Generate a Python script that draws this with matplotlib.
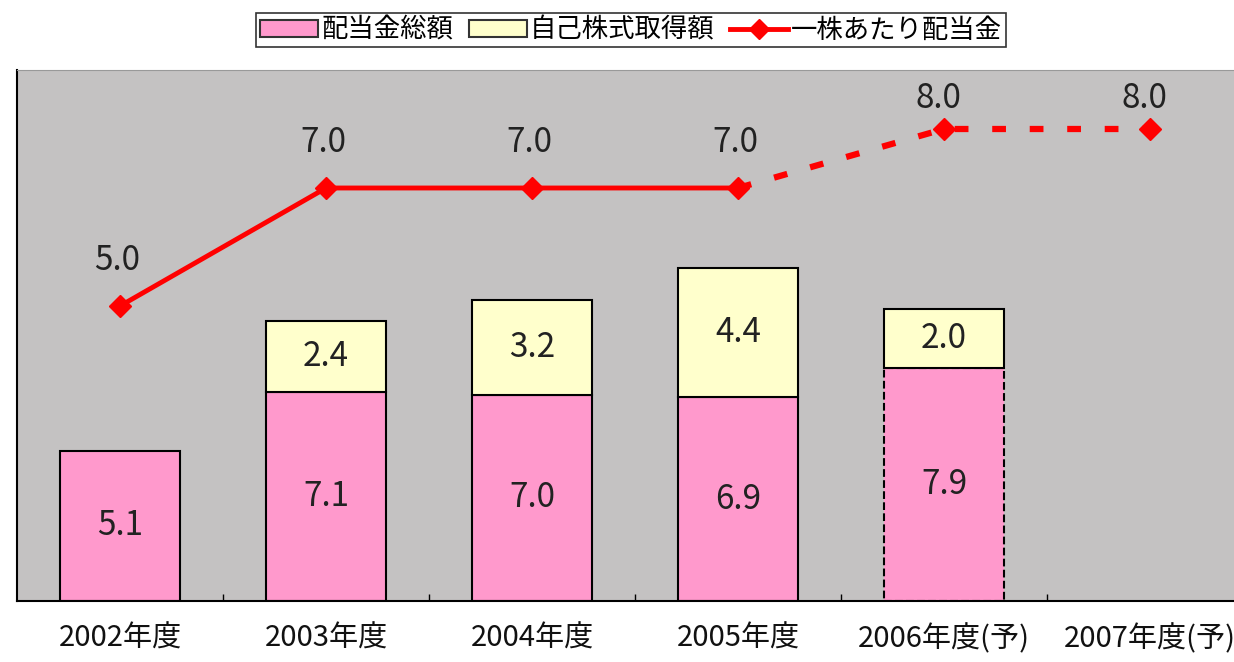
import matplotlib
matplotlib.use("Agg")
import matplotlib.pyplot as plt
from matplotlib.patches import Patch
from matplotlib.lines import Line2D

plt.rcParams['font.family'] = ['Noto Sans CJK JP', 'DejaVu Sans']

categories = ["2002年度", "2003年度", "2004年度", "2005年度", "2006年度(予)", "2007年度(予)"]
dividends = [5.1, 7.1, 7.0, 6.9, 7.9, None]
buybacks = [None, 2.4, 3.2, 4.4, 2.0, None]
per_share = [5.0, 7.0, 7.0, 7.0, 8.0, 8.0]
legend_labels = ["配当金総額", "自己株式取得額", "一株あたり配当金"]

PINK = "#FF99CC"
YELLOW = "#FFFFCC"
RED = "#FF0000"
BG = "#C4C2C2"
TXT = "#222222"

fig = plt.figure(figsize=(12.34, 6.62), dpi=100)
ax = fig.add_axes([17/1234, 61/662, 1236/1234, 531/662])
ax.set_facecolor(BG)
ax.set_xlim(-0.5, 5.5)
ax.set_ylim(0, 18)

x = list(range(len(categories)))
w = 0.58
forecast_start = 4
for i in x:
    d = dividends[i]
    if d is not None:
        ls = '--' if i >= forecast_start else '-'
        ax.bar(i, d, width=w, color=PINK, edgecolor='black', linewidth=1.5, linestyle=ls, zorder=2)
        ax.text(i, d / 2, f"{d:.1f}", ha='center', va='center', fontsize=24, color=TXT, zorder=5)
    b = buybacks[i]
    if b is not None:
        base = d if d is not None else 0
        ax.bar(i, b, bottom=base, width=w, color=YELLOW, edgecolor='black', linewidth=1.5, zorder=3)
        ax.text(i, base + b / 2, f"{b:.1f}", ha='center', va='center', fontsize=24, color=TXT, zorder=5)

ax.set_xticks([i + 0.5 for i in x[:-1]])
ax.set_xticklabels([])
ax.tick_params(axis='x', direction='in', length=5, width=1, color='black', pad=0)
ax.set_yticks([])
for i, c in enumerate(categories):
    ax.text(i, -0.065, c, transform=ax.get_xaxis_transform(), ha='center', va='center_baseline',
            fontsize=21, color='#111111')

ax.spines['left'].set_color('black')
ax.spines['left'].set_linewidth(1.5)
ax.spines['bottom'].set_color('black')
ax.spines['bottom'].set_linewidth(1.5)
ax.spines['top'].set_color('#999999')
ax.spines['right'].set_visible(False)

ax2 = ax.twinx()
ax2.set_ylim(0, 9)
ax2.set_yticks([])
for s in ax2.spines.values():
    s.set_visible(False)

solid_n = 4
ax2.plot(x[:solid_n], per_share[:solid_n], color=RED, linewidth=3.5, zorder=4)
ax2.plot(x[solid_n - 1:], per_share[solid_n - 1:], color=RED, linewidth=4.5,
         linestyle=(0, (2.2, 3.8)), zorder=4)
ax2.plot(x, per_share, linestyle='none', marker='D', markersize=11, color=RED, zorder=5)
for i, v in enumerate(per_share):
    off = 22 if v >= 8 else 33
    ax2.annotate(f"{v:.1f}", (i, v), xytext=(-4 if v >= 8 else -2, off), textcoords='offset points',
                 ha='center', va='center', fontsize=24, color=TXT)

handles = [Patch(facecolor=PINK, edgecolor='#333333', linewidth=1.5),
           Patch(facecolor=YELLOW, edgecolor='#333333', linewidth=1.5),
           Line2D([0], [0], color=RED, linewidth=3.5, marker='D', markersize=10)]
leg = fig.legend(handles, legend_labels, loc='center', bbox_to_anchor=(631/1234, 1 - 30/662),
                 ncol=3, frameon=True, fontsize=19, handlelength=2.2, handleheight=0.6,
                 handletextpad=0.1, columnspacing=0.6, borderpad=0.15, fancybox=False,
                 edgecolor='black')
leg.get_frame().set_linewidth(1.2)

fig.savefig("out.png", dpi=100)
